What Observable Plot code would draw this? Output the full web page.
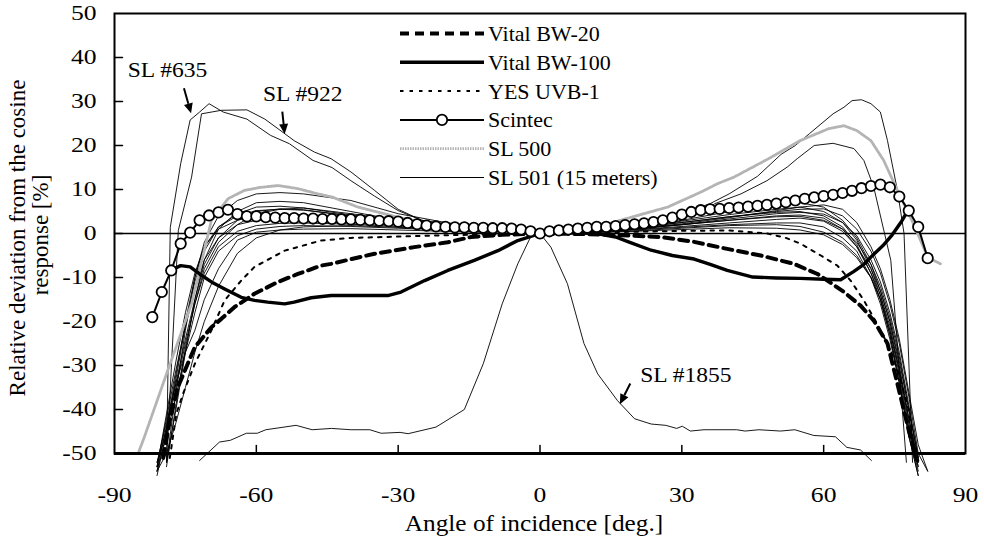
<!DOCTYPE html>
<html><head><meta charset="utf-8">
<script src="https://cdn.jsdelivr.net/npm/d3@7"></script>
<script src="https://cdn.jsdelivr.net/npm/@observablehq/plot@0.6"></script>
<style>
html,body{margin:0;padding:0;background:#fff;}
#chart{width:984px;height:539px;overflow:hidden;}
</style>
</head><body><div id="chart"></div>
<script>
// ---------- tick values ----------
const xTickValues = [-90, -60, -30, 0, 30, 60, 90];
const yTickValues = [-50, -40, -30, -20, -10, 0, 10, 20, 30, 40, 50];

// ---------- SL 501 (15 meters): bundle of thin curves on a shared angle grid ----------
const bundleAngles = [-81,-79,-77,-75,-73,-71,-68,-64,-60,-55,-50,-40,-30,-20,-10,0,10,20,30,40,50,55,60,64,67,70,72,74,76,78,80,82];
const sl501_1  = [null,-52,-36,-22,-10,-2,4,7.5,9,9.3,9,7.5,4.5,2.5,1,0,0.5,1.5,3,5,6.5,7,6,3,-1,-7,-13,-20,-30,-42,-52,null];
const sl501_2  = [null,-52,-40,-27,-15,-6,1,5,7,7.3,7,5,3,1.8,0.8,0,0.6,1.5,2.8,4.3,5.5,6,5,2.5,-1.5,-8,-14,-22,-32,-44,-53,null];
const sl501_3  = [-52,-45,-33,-21,-11,-4,1.5,4,5.2,5.5,5.3,4,2.5,1.5,0.7,0,0.5,1.3,2.5,3.8,4.8,5,4,1.5,-2.5,-9,-15,-23,-34,-46,-55,null];
const sl501_4  = [-54,-44,-32,-20,-10,-3,1,3,4,4.3,4.2,3.3,2.2,1.3,0.6,0,0.4,1.1,2,3,4,4.2,3.5,1,-3,-9,-14,-21,-31,-43,-53,null];
const sl501_5  = [-53,-42,-31,-21,-13,-6,-1,2,3,3.3,3.3,2.8,2,1.2,0.5,0,0.4,1,2,3.3,4.5,4.8,4.4,2.5,-0.5,-6,-11,-18,-27,-39,-51,null];
const sl501_6  = [-55,-45,-35,-25,-16,-9,-3,0.5,1.8,2.3,2.4,2.1,1.6,1,0.4,0,0.3,0.9,1.6,2.4,3.2,3.5,2.8,0.5,-3,-8,-13,-20,-29,-40,-51,null];
const sl501_7  = [-54,-46,-37,-27,-18,-10,-4,-0.5,1,1.6,1.8,1.6,1.2,0.8,0.3,0,0.3,0.8,1.4,2,2.4,2.4,1.5,-1,-4,-10,-15,-23,-33,-45,-54,null];
const sl501_8  = [-52,-43,-34,-27,-22,-15,-8,-1.5,0.3,0.8,1,1.1,0.8,0.5,0.2,0,0.2,0.6,1.2,1.8,2,1.6,0.3,-2,-5,-10,-16,-24,-34,-46,-55,null];
const sl501_9  = [null,-53,-39,-26,-16,-8,-2,2,4.5,5.5,5.8,4.5,3,1.8,0.8,0,0.5,1.4,2.5,3.8,5,5.5,5.6,4,1,-4,-9,-16,-25,-37,-50,-54];
const sl501_10 = [-53,-41,-29,-18,-9,-3,1.5,4.5,6,6.2,5.8,4.2,2.6,1.5,0.7,0,0.5,1.2,2.2,3.6,5.2,6,6.5,5.5,2.5,-3,-8,-15,-24,-36,-48,-54];
const sl501_11 = [-54,-50,-43,-35,-27,-20,-12,-4.5,-1,0.8,1.5,1.8,1.4,0.9,0.4,0,0.2,0.5,0.9,1.3,1.2,0.8,-0.3,-2.5,-5.5,-10,-15,-22,-31,-42,-52,null];
const sl501_12 = [-53,-44,-34,-24,-15,-7,-1,3,5,5.6,5.4,4,2.6,1.5,0.6,0,0.4,1.1,2,3,3.8,3.9,3,1,-2,-7,-12,-19,-28,-40,-51,null];

// ---------- individual SL 501 instruments ----------
const sl635Angles = [-79,-78.2,-76,-74,-72,-70,-67,-62,-57,-53,-48,-44,-40,-35,-30,-25,-20,-10,0,10,20,30,36,40,46,51,54,57,62,64.3,66,68,70,72,73.5,75.6,77,78.8];
const sl635Values = [-52,1.4,15.9,25.8,27.6,29.5,27.6,26,22.3,20.4,16.6,15,12,8.5,5.2,3,2.2,1,0,1,2.5,4.5,6.8,9,13,18,20,22.7,27.2,28.7,30.2,30.4,29.5,27.6,21.1,9.8,0,-52];
const sl922Angles = [-79,-76.5,-73.7,-71.6,-67.4,-62,-58.2,-55.4,-52,-47.7,-44.2,-40,-35,-30,-25,-20,-10,0,10,20,30,34,37,42.5,48,52.3,54.4,58,62,66.4,68.5,70.6,74.2,77.5];
const sl922Values = [-52,0.7,12.8,27.2,28,28.1,26,23.8,21.1,18.5,17,14,9.8,5.5,3,2,0.9,0,0.8,2,3.5,4.5,6.8,9,12,15.1,17,20,20.5,19.3,16.6,10.5,-6.1,-52];
const sl1855Angles = [-72,-67.8,-65.5,-62.1,-59.8,-58,-51.6,-48.2,-44.1,-40,-36,-33.6,-29.6,-27.9,-22,-16,-12,-8,-4.7,-2,0,2.3,5.8,9.3,12.2,16.4,20,23.5,26.6,28.9,30.1,31.8,34.7,41.6,43.4,46.3,50.9,53.9,57.9,62.5,64.9,67.8,70.1];
const sl1855Values = [-51.6,-47.4,-47,-45.4,-45.4,-44.6,-43.6,-44.6,-44.3,-44.6,-44.6,-45.4,-45.2,-45.5,-44,-40,-29.6,-16,-6.9,-0.8,0,-3.1,-11.4,-25,-31.9,-38,-42.1,-43.3,-43.6,-44.3,-43.8,-44.9,-44.6,-44.6,-44.9,-44.6,-44.9,-44.6,-45.9,-46.2,-48.6,-49.2,-51.6];

// ---------- SL 500 ----------
const sl500Angles = [-85,-83.7,-78.7,-73.7,-69.5,-66,-62.5,-59,-55.4,-51.2,-47,-44,-38.5,-30,-22,-10,0,10,17,27,34,37.5,41,48,55,61,64.3,67,70,72.7,75.6,79,82,84.7];
const sl500Values = [-50,-46.3,-31,-16,3,7.9,9.8,10.5,10.9,10.2,9,8.3,6,3.7,1.8,0.6,0,0.8,3,6,9.4,11.3,12.8,16.8,21.1,23.8,24.5,23.4,21.1,16.6,9.8,2.2,-5.4,-6.9];

// ---------- Scintec ----------
const scintecAngles = [-82,-80,-78,-76,-74,-72,-70,-68,-66,-64,-62,-60,-58,-56,-54,-52,-50,-48,-46,-44,-42,-40,-38,-36,-34,-32,-30,-28,-26,-24,-22,-20,-18,-16,-14,-12,-10,-8,-6,-4,-2,0,2,4,6,8,10,12,14,16,18,20,22,24,26,28,30,32,34,36,38,40,42,44,46,48,50,52,54,56,58,60,62,64,66,68,70,72,74,76,78,80,82];
const scintecValues = [-19,-13.3,-8.4,-2.3,0.2,3,4.1,4.8,5.4,4.4,3.9,3.9,3.7,3.6,3.5,3.5,3.4,3.4,3.3,3.3,3.2,3.2,3.1,3.0,2.9,2.8,2.7,2.4,2.1,1.8,1.6,1.5,1.4,1.4,1.3,1.3,1.2,1.2,1.1,0.9,0.5,0,0.5,0.7,0.9,1.1,1.3,1.5,1.5,1.7,1.9,2.1,2.3,2.6,3.0,3.6,4.3,4.9,5.3,5.5,5.6,5.8,5.9,6.1,6.3,6.5,6.8,7.1,7.5,7.9,8.2,8.5,8.8,9.2,9.7,10.3,10.8,11.1,10.5,8.4,5.2,1.5,-5.6];

// ---------- Vital BW-100 ----------
const bw100Angles = [-78.5,-76,-74,-72,-69.5,-66.7,-63.2,-60.4,-57.6,-54,-52,-48.4,-44.2,-40,-32.2,-29.4,-24.4,-19.5,-13.9,-8.9,-4.7,0,6,12,16,19,23.5,28,32.6,36,39.6,45,50,55,60,63.6,66.4,68.5,70.6,72.5,74.5,76.5,77.8];
const bw100Values = [-8.6,-7.3,-7.6,-9.2,-11,-12.6,-14.5,-15.2,-15.6,-16,-15.6,-14.6,-14.1,-14.1,-14.1,-13.3,-10.7,-8.4,-6.1,-3.9,-1.6,0,0.2,0,-0.8,-2,-3.8,-5,-5.8,-7,-8.4,-9.9,-10.1,-10.2,-10.4,-10.5,-8.6,-7,-4.7,-2.8,-0.3,2.8,5.2];

// ---------- Vital BW-20 ----------
const bw20Angles = [-79.7,-78.3,-76.6,-73,-69.5,-67.4,-64.6,-60.4,-55.4,-51.2,-46.3,-44.2,-35,-26.6,-19.5,-14.6,-8,0,8,15,20,25.6,32.6,39.6,46.7,53.7,58.7,60.8,64.3,67.8,70.6,73.5,74.9,76.3,78,79.8];
const bw20Values = [-51,-42.5,-34.9,-25.8,-21.3,-19.4,-16.7,-13.7,-11,-9.2,-7.3,-6.9,-4.6,-3.1,-2,-0.8,-0.3,0,-0.1,-0.3,-0.5,-0.8,-1.9,-3.5,-5,-6.9,-9.2,-10.7,-13.3,-16.4,-19.8,-25,-31.1,-37.2,-44.8,-51.6];

// ---------- YES UVB-1 ----------
const yesAngles = [-78.3,-76.9,-75.5,-73,-69.5,-66.7,-63.2,-60.4,-54,-46.3,-40,-30,-20,-10,0,10,20,30,40,48,52,55.1,59.4,62.9,65.7,68.5,71.3,74.2,76.3,78,79.4];
const yesValues = [-51,-40.9,-36.4,-29.6,-22,-15.2,-10.7,-7.6,-3.9,-1.6,-1,-0.7,-0.4,-0.2,0,0.2,0.4,0.6,0.7,0,-1,-2.3,-5,-7.3,-10.7,-15.2,-20.5,-26.6,-33.4,-40.2,-51];

// ---------- legend & annotations ----------
const legendNames = ["Vital BW-20", "Vital BW-100", "YES UVB-1", "Scintec", "SL 500", "SL 501 (15 meters)"];
const annotationLabels = ["SL #635", "SL #922", "SL #1855"];
const annotationTextX = [-87.1, -58.5, 21.3];
const annotationTextY = [35.5, 30.1, -33.8];
const arrowFromX = [-75.2, -54.4, 19.2];
const arrowFromY = [32.9, 27.6, -34.2];
const arrowToX = [-73.7, -53.9, 17.0];
const arrowToY = [27.2, 22.5, -38.9];

// ---------- build tables ----------
function rows(name, xs, ys) { return xs.map((x, i) => ({name, x, y: ys[i]})); }
const bundleSeries = [sl501_1, sl501_2, sl501_3, sl501_4, sl501_5, sl501_6, sl501_7, sl501_8, sl501_9, sl501_10, sl501_11, sl501_12];
const thinRows = [
  ...bundleSeries.flatMap((vals, k) => rows("b" + k, bundleAngles, vals)),
  ...rows("SL #635", sl635Angles, sl635Values),
  ...rows("SL #922", sl922Angles, sl922Values),
  ...rows("SL #1855", sl1855Angles, sl1855Values)
];
const sl500Rows = rows("SL 500", sl500Angles, sl500Values);
const scintecRows = rows("Scintec", scintecAngles, scintecValues);
const bw100Rows = rows("Vital BW-100", bw100Angles, bw100Values);
const bw20Rows = rows("Vital BW-20", bw20Angles, bw20Values);
const yesRows = rows("YES UVB-1", yesAngles, yesValues);

const styles = {
  "Vital BW-20": {stroke: "#000", strokeWidth: 4, strokeDasharray: "9,6"},
  "Vital BW-100": {stroke: "#000", strokeWidth: 3.4},
  "YES UVB-1": {stroke: "#000", strokeWidth: 2, strokeDasharray: "3.5,6"},
  "Scintec": {stroke: "#000", strokeWidth: 2},
  "SL 500": {stroke: "#b4b4b4", strokeWidth: 2.8, strokeDasharray: "1.5,1"},
  "SL 501 (15 meters)": {stroke: "#000", strokeWidth: 1}
};

const tickShape = {draw(context, l) { context.moveTo(0, 0); context.lineTo(0, -l); }};
const FONT = "'Liberation Serif', 'Times New Roman', serif";

const plot = Plot.plot({
  width: 984, height: 539,
  marginLeft: 114, marginRight: 19, marginTop: 13, marginBottom: 86,
  x: {domain: [-90, 90], label: null},
  y: {domain: [-50, 50], label: null},
  style: {fontFamily: FONT, fontSize: "21px", color: "#000", background: "#fff"},
  marks: [
    Plot.axisX({ticks: xTickValues, tickSize: 0, tickPadding: 34, tickFormat: d => String(d), label: null, fontSize: 21}),
    Plot.axisY({ticks: yTickValues, tickSize: 0, tickPadding: 18, tickFormat: d => String(d), label: null, fontSize: 21}),
    Plot.ruleY([0], {stroke: "#000", strokeWidth: 1.5}),
    Plot.line(thinRows, {x: "x", y: "y", z: "name", curve: "linear", ...styles["SL 501 (15 meters)"], strokeWidth: 0.9}),
    Plot.line(sl500Rows, {x: "x", y: "y", ...styles["SL 500"]}),
    Plot.line(yesRows, {x: "x", y: "y", ...styles["YES UVB-1"]}),
    Plot.line(bw20Rows, {x: "x", y: "y", ...styles["Vital BW-20"]}),
    Plot.line(bw100Rows, {x: "x", y: "y", ...styles["Vital BW-100"]}),
    Plot.line(scintecRows, {x: "x", y: "y", ...styles["Scintec"]}),
    Plot.dot(scintecRows, {x: "x", y: "y", r: 5.2, stroke: "#000", strokeWidth: 1.8, fill: "#fff"}),
    Plot.frame({stroke: "#000", strokeWidth: 2}),
    Plot.ruleY([-50], {stroke: "#000", strokeWidth: 3}),
    Plot.vector(xTickValues.filter(v => v > -90 && v < 90), {x: d => d, frameAnchor: "bottom", length: 8, anchor: "start", shape: tickShape, stroke: "#000", strokeWidth: 1.5}),
    Plot.vector(yTickValues.filter(v => v > -50 && v < 50), {y: d => d, frameAnchor: "left", length: 8, rotate: 90, anchor: "start", shape: tickShape, stroke: "#000", strokeWidth: 1.5})
  ]
});
document.getElementById("chart").appendChild(plot);

const sx = v => plot.scale("x").apply(v);
const sy = v => plot.scale("y").apply(v);
const svg = d3.select(plot);

function stretch(sel, factor) {
  sel.each(function() {
    const L = this.getComputedTextLength();
    this.setAttribute("textLength", (L * factor).toFixed(1));
    this.setAttribute("lengthAdjust", "spacingAndGlyphs");
  });
}
stretch(svg.selectAll('g[aria-label="x-axis tick label"] text'), 1.22);
stretch(svg.selectAll('g[aria-label="y-axis tick label"] text'), 1.22);

// axis titles
const titles = svg.append("g").attr("font-family", FONT).attr("fill", "#000");
const xt = titles.append("text").attr("x", 534).attr("y", 531).attr("text-anchor", "middle")
  .attr("font-size", 23).text("Angle of incidence [deg.]");
stretch(xt, 1.1);
titles.append("text").attr("transform", "translate(25,238) rotate(-90)").attr("text-anchor", "middle")
  .attr("font-size", 23).text("Relative deviation from the cosine");
titles.append("text").attr("transform", "translate(48,235) rotate(-90)").attr("text-anchor", "middle")
  .attr("font-size", 23).text("response [%]");

// legend
const lg = svg.append("g").attr("font-family", FONT).attr("font-size", 22).attr("text-anchor", "start");
legendNames.forEach((name, i) => {
  const y = 33.5 + i * 28.8;
  const st = styles[name];
  lg.append("line").attr("x1", 400).attr("x2", 484).attr("y1", y).attr("y2", y)
    .attr("stroke", st.stroke).attr("stroke-width", st.strokeWidth)
    .attr("stroke-dasharray", st.strokeDasharray || null);
  if (name === "Scintec") {
    lg.append("circle").attr("cx", 442).attr("cy", y).attr("r", 5.2)
      .attr("fill", "#fff").attr("stroke", "#000").attr("stroke-width", 1.8);
  }
  lg.append("text").attr("x", 488).attr("y", y + 7.5).attr("text-anchor", "start").text(name);
});

// annotations with arrows
const an = svg.append("g").attr("font-family", FONT).attr("font-size", 21).attr("text-anchor", "start");
annotationLabels.forEach((label, i) => {
  const t = an.append("text").attr("x", sx(annotationTextX[i])).attr("y", sy(annotationTextY[i])).attr("text-anchor", "start").text(label);
  stretch(t, 1.12);
  const x1 = sx(arrowFromX[i]), y1 = sy(arrowFromY[i]), x2 = sx(arrowToX[i]), y2 = sy(arrowToY[i]);
  const ang = Math.atan2(y2 - y1, x2 - x1), hl = 10, hw = 4.5;
  const bx = x2 - hl * Math.cos(ang), by = y2 - hl * Math.sin(ang);
  an.append("line").attr("x1", x1).attr("y1", y1).attr("x2", bx).attr("y2", by).attr("stroke", "#000").attr("stroke-width", 2);
  const px = -Math.sin(ang) * hw, py = Math.cos(ang) * hw;
  an.append("path").attr("d", `M${x2},${y2}L${bx + px},${by + py}L${bx - px},${by - py}Z`).attr("fill", "#000");
});
</script>
</body></html>
